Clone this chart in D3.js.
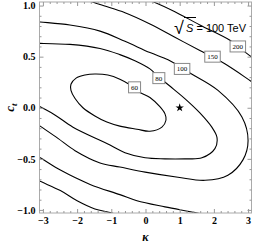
<!DOCTYPE html>
<html lang="en">
<head>
<meta charset="utf-8">
<title>Contours</title>
<script src="https://cdn.jsdelivr.net/npm/d3@7"></script>
<style>
  body { margin: 0; background: #fff; }
  .axis path { display: none; }
  .axis line { stroke: #999; }
  .axis text { font-family: "Liberation Serif", serif; font-weight: bold; font-size: 10px; fill: #000; }
  .contour { fill: none; stroke: #000; stroke-width: 1.1; }
  .clabel rect { fill: #fff; stroke: #888; stroke-width: 1; }
  .clabel text { font-family: "Liberation Serif", serif; font-size: 7px; fill: #000; }
</style>
</head>
<body>
<div id="chart"></div>
<script>
// tick values
var xTicks = [-3, -2, -1, 0, 1, 2, 3];
var yTicks = [-1, -0.5, 0, 0.5, 1];

// contour levels and their lines as [kappa, c_t]
var levels = [60, 80, 100, 150, 200];

var line60 = [[-2.18,0.23],[-2.03,0.29],[-1.77,0.32],[-1.48,0.33],[-1.10,0.32],[-0.75,0.28],[-0.48,0.23],
  [-0.16,0.15],[0.13,0.10],[0.42,0.01],[0.57,-0.06],[0.60,-0.12],[0.48,-0.19],[0.13,-0.23],[-0.25,-0.21],
  [-0.75,-0.18],[-1.13,-0.14],[-1.48,-0.08],[-1.83,0.00],[-2.06,0.09],[-2.18,0.17]];

var line80 = [[-3.38,0.63],[-3.08,0.63],[-2.21,0.62],[-1.33,0.58],[-0.75,0.52],[-0.31,0.46],[0.13,0.38],
  [0.39,0.30],[0.72,0.21],[1.15,0.09],[1.59,-0.05],[1.94,-0.19],[2.09,-0.29],[2.03,-0.40],[1.65,-0.49],
  [1.15,-0.50],[0.57,-0.50],[-0.01,-0.49],[-0.60,-0.44],[-1.13,-0.35],[-2.12,-0.19],[-2.65,-0.07],
  [-3.08,0.01],[-3.38,0.07]];

var line100 = [[-3.38,0.85],[-3.08,0.84],[-2.21,0.81],[-1.33,0.75],[-0.60,0.65],[0.13,0.54],[0.66,0.47],
  [1.07,0.39],[1.30,0.34],[2.12,0.17],[2.82,-0.09],[3.00,-0.32],[2.85,-0.51],[2.41,-0.66],[1.74,-0.71],
  [0.95,-0.68],[-0.01,-0.63],[-0.75,-0.58],[-1.33,-0.54],[-2.06,-0.42],[-2.56,-0.30],[-3.08,-0.18],
  [-3.38,-0.11]];

var line150a = [[-1.92,1.08],[-1.33,1.01],[-0.60,0.93],[0.13,0.82],[0.86,0.69],[1.59,0.56],[1.94,0.50],
  [2.32,0.43],[2.91,0.30],[3.29,0.21]];
var line150b = [[-3.38,-0.44],[-3.08,-0.49],[-2.49,-0.61],[-1.62,-0.75],[-0.75,-0.85],[-0.25,-0.91],
  [0.57,-0.97],[1.51,-1.03],[2.18,-1.08]];

var line200a = [[-0.31,1.10],[0.13,1.05],[0.86,0.94],[1.59,0.81],[2.47,0.66],[2.70,0.60],[3.14,0.49],[3.41,0.44]];
var line200b = [[-3.38,-0.67],[-3.08,-0.72],[-2.49,-0.81],[-2.00,-0.91],[-1.48,-0.99],[-0.98,-1.03],[-0.60,-1.08]];

// where each level's label sits
var labelPos = [[-0.32,0.20],[0.39,0.29],[1.07,0.38],[1.96,0.50],[2.70,0.60]];

var starPoint = [1, 0];

var W = 253, H = 245;
var x = d3.scaleLinear().domain([-3.1, 3.1]).range([39.5, 251.5]);
var y = d3.scaleLinear().domain([-1.03, 1.035]).range([213, 2]);

var svg = d3.select("#chart").append("svg")
    .attr("width", W).attr("height", H);

svg.append("clipPath").attr("id", "clip")
   .append("rect")
   .attr("x", x.range()[0]).attr("y", y.range()[1])
   .attr("width", x.range()[1] - x.range()[0])
   .attr("height", y.range()[0] - y.range()[1]);

var plot = svg.append("g").attr("clip-path", "url(#clip)");

var line = d3.line()
    .x(function(d) { return x(d[0]); })
    .y(function(d) { return y(d[1]); })
    .curve(d3.curveCatmullRom.alpha(0.5));
var closedLine = d3.line()
    .x(function(d) { return x(d[0]); })
    .y(function(d) { return y(d[1]); })
    .curve(d3.curveCatmullRomClosed.alpha(0.5));

plot.append("path").attr("class", "contour").attr("d", closedLine(line60));
[line80, line100, line150a, line150b, line200a, line200b].forEach(function(l) {
  plot.append("path").attr("class", "contour").attr("d", line(l));
});

// star at the SM point
plot.append("path")
    .attr("d", d3.symbol().type(d3.symbolStar).size(22)())
    .attr("transform", "translate(" + x(starPoint[0]) + "," + y(starPoint[1]) + ")")
    .attr("fill", "#000");

// contour labels
levels.forEach(function(lv, i) {
  var g = plot.append("g").attr("class", "clabel")
      .attr("transform", "translate(" + x(labelPos[i][0]) + "," + y(labelPos[i][1]) + ")");
  var t = g.append("text").attr("text-anchor", "middle").attr("dy", "0.35em").text(lv);
  var w = t.node().getComputedTextLength() + 5;
  g.insert("rect", "text")
   .attr("x", -w / 2).attr("y", -5.5).attr("width", w).attr("height", 11);
});

// frame
svg.append("rect")
   .attr("x", x.range()[0]).attr("y", y.range()[1])
   .attr("width", x.range()[1] - x.range()[0])
   .attr("height", y.range()[0] - y.range()[1])
   .attr("fill", "none").attr("stroke", "#aaa").attr("stroke-width", 1);

// minor ticks
var xMinor = d3.range(-3, 3.01, 0.2).filter(function(v) { return Math.abs(v - Math.round(v)) > 0.01; });
var yMinor = d3.range(-1, 1.01, 0.1).filter(function(v) { return Math.abs(v * 2 - Math.round(v * 2)) > 0.01; });

function addAxis(axis, tx, ty) {
  svg.append("g").attr("class", "axis")
     .attr("transform", "translate(" + tx + "," + ty + ")").call(axis);
}
var fmtY = function(d) { return d3.format(".1f")(d).replace("-", "\u2212"); };
var fmtX = function(d) { return d3.format("d")(d).replace("-", "\u2212"); };

addAxis(d3.axisBottom(x).tickValues(xTicks).tickSize(-4).tickPadding(4).tickFormat(fmtX), 0, y.range()[0]);
addAxis(d3.axisBottom(x).tickValues(xMinor).tickSize(-2).tickFormat(""), 0, y.range()[0]);
addAxis(d3.axisTop(x).tickValues(xTicks).tickSize(-4).tickFormat(""), 0, y.range()[1]);
addAxis(d3.axisTop(x).tickValues(xMinor).tickSize(-2).tickFormat(""), 0, y.range()[1]);
addAxis(d3.axisLeft(y).tickValues(yTicks).tickSize(-4).tickPadding(4).tickFormat(fmtY), x.range()[0], 0);
addAxis(d3.axisLeft(y).tickValues(yMinor).tickSize(-2).tickFormat(""), x.range()[0], 0);
addAxis(d3.axisRight(y).tickValues(yTicks).tickSize(-4).tickFormat(""), x.range()[1], 0);
addAxis(d3.axisRight(y).tickValues(yMinor).tickSize(-2).tickFormat(""), x.range()[1], 0);

// axis titles
svg.append("text")
   .attr("x", (x.range()[0] + x.range()[1]) / 2).attr("y", 241)
   .attr("text-anchor", "middle")
   .style("font-family", "Liberation Serif, serif").style("font-style", "italic")
   .style("font-weight", "bold").style("font-size", "12px")
   .text("\u03ba");

var yl = svg.append("text")
   .attr("transform", "translate(14," + ((y.range()[0] + y.range()[1]) / 2) + ") rotate(-90)")
   .attr("text-anchor", "middle")
   .style("font-family", "Liberation Serif, serif").style("font-style", "italic")
   .style("font-weight", "bold").style("font-size", "13px");
yl.append("tspan").text("c");
yl.append("tspan").attr("dy", 3).style("font-size", "9px").text("t");

// energy annotation
var ann = svg.append("g");
ann.append("text")
   .attr("x", 174).attr("y", 34)
   .style("font-family", "Liberation Sans, sans-serif").style("font-size", "18px")
   .text("\u221a");
ann.append("line")
   .attr("x1", 184).attr("x2", 196).attr("y1", 17.5).attr("y2", 17.5)
   .attr("stroke", "#000").attr("stroke-width", 1);
var at = ann.append("text")
   .attr("x", 186).attr("y", 32)
   .style("font-family", "Liberation Sans, sans-serif").style("font-size", "11px");
at.append("tspan").style("font-style", "italic").text("S");
at.append("tspan").text(" = 100 TeV");
</script>
</body>
</html>
